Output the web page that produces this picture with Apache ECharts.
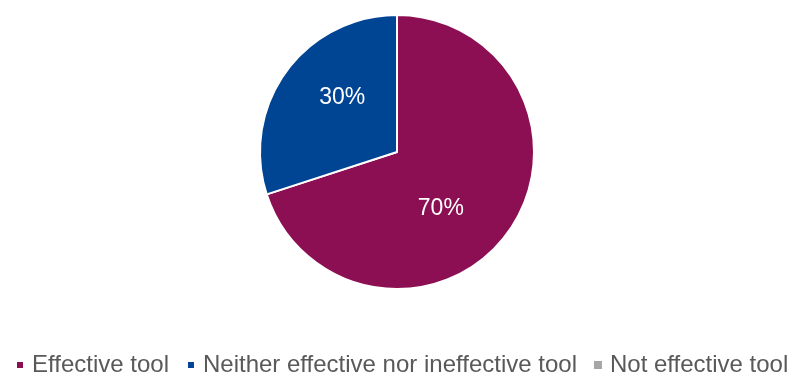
<!DOCTYPE html>
<html>
<head>
<meta charset="utf-8">
<script src="https://cdn.jsdelivr.net/npm/echarts@6/dist/echarts.min.js"></script>
<style>
html,body{margin:0;padding:0;background:#fff}
#main{width:793px;height:373px}
</style>
</head>
<body>
<div id="main"></div>
<script>
var categories = ['Effective tool', 'Neither effective nor ineffective tool', 'Not effective tool']
var values = [70, 30, 0]
var colors = ['#8B0F52', '#004593', '#A6A6A6']
// nudge labels toward where the original puts them
var labelOffsets = [[-14, 15], [3, -12], [0, 0]]

var chart = echarts.init(document.getElementById('main'))
var pieData = []
categories.forEach(function (name, i) {
	var item = {name: name, value: values[i], itemStyle: {color: colors[i]}, label: {offset: labelOffsets[i]}}
	if (values[i] === 0) {
		item.label.show = false
		item.itemStyle.borderWidth = 0
	}
	pieData.push(item)
})

chart.setOption({
	animation: false,
	legend: {
		bottom: -9,
		left: 10,
		right: -40,
		padding: 5,
		itemWidth: 8,
		itemHeight: 8,
		itemGap: 17,
		icon: 'rect',
		textStyle: {fontFamily: 'Liberation Sans', fontSize: 24, color: '#595959', padding: [0, 0, 0, 3]},
		data: categories
	},
	series: [{
		type: 'pie',
		center: [397, 152],
		radius: 137,
		startAngle: 90,
		clockwise: true,
		itemStyle: {borderColor: '#fff', borderWidth: 2},
		label: {
			position: 'inside',
			formatter: '{d}%',
			color: '#fff',
			fontFamily: 'Liberation Sans',
			fontSize: 23
		},
		labelLine: {show: false},
		emphasis: {disabled: true},
		data: pieData
	}]
})
</script>
</body>
</html>
